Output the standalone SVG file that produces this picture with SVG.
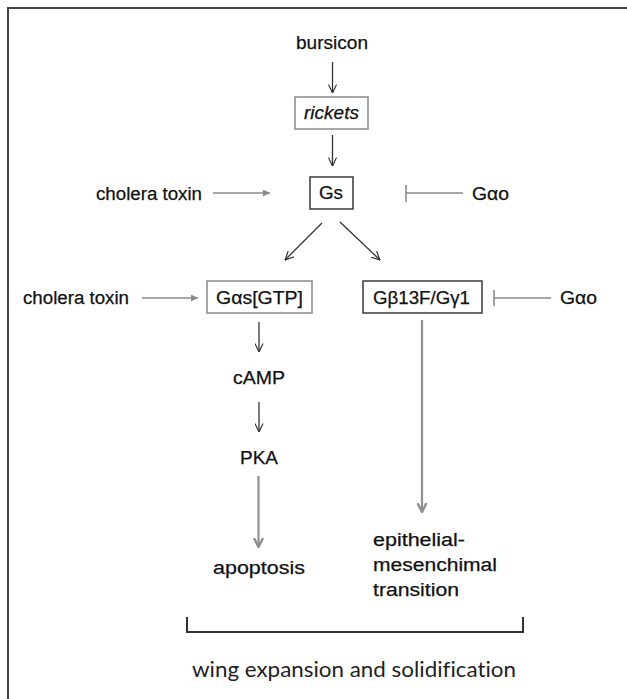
<svg xmlns="http://www.w3.org/2000/svg" width="627" height="699" viewBox="0 0 627 699">
<style>
.t{font-family:"Liberation Sans",Arial,sans-serif;fill:#111;stroke:#111;stroke-width:0.25;font-size:18px}
.c{font-family:Lato,"Open Sans",sans-serif;fill:#222;font-size:22px;font-variant-ligatures:none}
.bx{fill:#fff;stroke-width:1.5}
.dk{stroke:#3a3a3a}
.gy{stroke:#8a8a8a}
.blk{stroke:#333;stroke-width:1.3;fill:none}
.gr{stroke:#8a8a8a;stroke-width:1.6;fill:none}
.grt{stroke:#8f8f8f;stroke-width:2.2;fill:none}
</style>
<defs>
<marker id="v" viewBox="0 0 10 10" refX="9.5" refY="5" markerUnits="userSpaceOnUse" markerWidth="9" markerHeight="9" orient="auto">
<path d="M0,0.5 L9.5,5 L0,9.5" fill="none" stroke="#333" stroke-width="1.3"/>
</marker>
<marker id="tri" viewBox="0 0 10 10" refX="10" refY="5" markerUnits="userSpaceOnUse" markerWidth="8" markerHeight="7" orient="auto">
<path d="M0,0 L10,5 L0,10 z" fill="#8a8a8a"/>
</marker>
<marker id="gv" viewBox="0 0 10 10" refX="9" refY="5" markerUnits="userSpaceOnUse" markerWidth="10" markerHeight="11" orient="auto">
<path d="M0,0.5 L9,5 L0,9.5" fill="none" stroke="#8f8f8f" stroke-width="2.4"/>
</marker>
</defs>
<rect width="627" height="699" fill="#fff"/>
<rect x="8" y="8" width="720" height="720" fill="none" stroke="#444" stroke-width="2"/>

<g id="connectors">
<line class="blk" x1="332.5" y1="62" x2="332.5" y2="93" marker-end="url(#v)"/>
<line class="blk" x1="332.5" y1="135" x2="332.5" y2="166" marker-end="url(#v)"/>
<line class="gr" x1="213" y1="193" x2="270" y2="193" marker-end="url(#tri)"/>
<line class="gr" x1="406" y1="193" x2="463" y2="193"/>
<line class="gr" x1="406" y1="185" x2="406" y2="202"/>
<line class="blk" x1="322" y1="223" x2="285" y2="260" marker-end="url(#v)"/>
<line class="blk" x1="340" y1="222" x2="380" y2="260" marker-end="url(#v)"/>
<line class="gr" x1="142" y1="298" x2="198" y2="298" marker-end="url(#tri)"/>
<line class="gr" x1="494" y1="298" x2="551" y2="298"/>
<line class="gr" x1="494" y1="290" x2="494" y2="306"/>
<line class="blk" x1="259" y1="322" x2="259" y2="352" marker-end="url(#v)"/>
<line class="blk" x1="259" y1="402" x2="259" y2="432" marker-end="url(#v)"/>
<line class="grt" x1="258.5" y1="476" x2="258.5" y2="547" marker-end="url(#gv)"/>
<line class="grt" x1="422" y1="320" x2="422" y2="512" marker-end="url(#gv)"/>
<path d="M187,617 V632 H523 V617" fill="none" stroke="#333" stroke-width="2"/>
</g>

<g id="bursicon"><text class="t" x="296" y="48.5" font-size="18" textLength="72" lengthAdjust="spacingAndGlyphs">bursicon</text></g>
<g id="rickets"><rect class="bx gy" x="295" y="97" width="73" height="32"/><text class="t" x="304" y="119" font-size="17" font-style="italic" textLength="55" lengthAdjust="spacingAndGlyphs">rickets</text></g>
<g id="gs"><rect class="bx dk" x="310" y="177" width="43" height="32"/><text class="t" x="319" y="199" textLength="24" lengthAdjust="spacingAndGlyphs">Gs</text></g>
<g id="cholera1"><text class="t" x="96" y="200" textLength="106" lengthAdjust="spacingAndGlyphs">cholera toxin</text></g>
<g id="gao1"><text class="t" x="472" y="200" textLength="37" lengthAdjust="spacingAndGlyphs">Gαo</text></g>
<g id="gasgtp"><rect class="bx gy" x="207" y="281" width="105" height="32"/><text class="t" x="216" y="304" textLength="87" lengthAdjust="spacingAndGlyphs">Gαs[GTP]</text></g>
<g id="gbg"><rect class="bx dk" x="363" y="281" width="119" height="32"/><text class="t" x="373" y="304" textLength="97" lengthAdjust="spacingAndGlyphs">Gβ13F/Gγ1</text></g>
<g id="cholera2"><text class="t" x="23" y="304" textLength="106" lengthAdjust="spacingAndGlyphs">cholera toxin</text></g>
<g id="gao2"><text class="t" x="560" y="304" textLength="37" lengthAdjust="spacingAndGlyphs">Gαo</text></g>
<g id="camp"><text class="t" x="233" y="384" font-size="19" textLength="52" lengthAdjust="spacingAndGlyphs">cAMP</text></g>
<g id="pka"><text class="t" x="240" y="464" font-size="19" textLength="38" lengthAdjust="spacingAndGlyphs">PKA</text></g>
<g id="apoptosis"><text class="t" x="213" y="574" font-size="19" textLength="92" lengthAdjust="spacingAndGlyphs">apoptosis</text></g>
<g id="emt">
<text class="t" x="373" y="546" font-size="19" textLength="92" lengthAdjust="spacingAndGlyphs">epithelial-</text>
<text class="t" x="373" y="571" font-size="19" textLength="124" lengthAdjust="spacingAndGlyphs">mesenchimal</text>
<text class="t" x="373" y="596" font-size="19" textLength="86" lengthAdjust="spacingAndGlyphs">transition</text>
</g>
<g id="wing"><text class="c" x="192" y="677" textLength="324" lengthAdjust="spacingAndGlyphs">wing expansion and solidification</text></g>
</svg>
